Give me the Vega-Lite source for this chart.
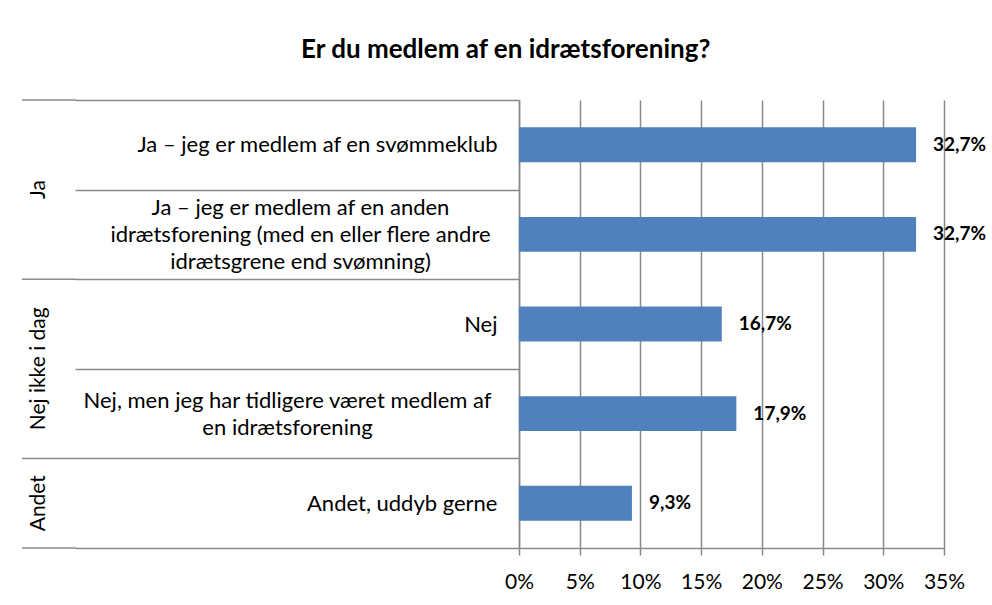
{
  "$schema": "https://vega.github.io/schema/vega-lite/v6.json",
  "padding": {"left": 21, "top": 37, "right": 0, "bottom": 0},
  "autosize": {"type": "pad"},
  "background": "white",
  "title": {"text": "Er du medlem af en idrætsforening?", "font": "Lato", "fontSize": 26, "fontWeight": "bold", "color": "#000000", "anchor": "middle", "dx": 2, "offset": 26},
  "data": {"values": [
    {"group": "Ja", "cat": "Ja – jeg er medlem af en svømmeklub", "value": 0.327},
    {"group": "Ja", "cat": "Ja – jeg er medlem af en anden|idrætsforening (med en eller flere andre|idrætsgrene end svømning)", "value": 0.327},
    {"group": "Nej ikke i dag", "cat": "Nej", "value": 0.167},
    {"group": "Nej ikke i dag", "cat": "Nej, men jeg har tidligere været medlem af|en idrætsforening", "value": 0.179},
    {"group": "Andet", "cat": "Andet, uddyb gerne", "value": 0.093}
  ]},
  "spacing": -3,
  "resolve": {"scale": {"y": "shared"}},
  "hconcat": [
    {
      "width": 54,
      "height": 448,
      "transform": [{"window": [{"op": "row_number", "as": "k"}], "groupby": ["group"]}],
      "layer": [
        {
          "transform": [{"filter": "datum.k == 1"}],
          "mark": {"type": "rule", "color": "#8A8A8A", "strokeWidth": 1.5},
          "encoding": {"y": {"field": "cat", "type": "nominal", "sort": null, "bandPosition": 0, "axis": null}}
        },
        {
          "transform": [{"filter": "datum.group == 'Andet'"}],
          "mark": {"type": "rule", "color": "#8A8A8A", "strokeWidth": 1.5},
          "encoding": {"y": {"field": "cat", "type": "nominal", "sort": null, "bandPosition": 1, "axis": null}}
        },
        {
          "transform": [{"filter": "datum.k == 1 && datum.group != 'Andet'"}],
          "mark": {"type": "text", "angle": 270, "font": "Lato", "fontSize": 21, "color": "#000000", "align": "center", "baseline": "middle", "dy": -10},
          "encoding": {"y": {"field": "cat", "type": "nominal", "sort": null, "bandPosition": 1, "axis": null}, "text": {"field": "group"}}
        },
        {
          "transform": [{"filter": "datum.group == 'Andet'"}],
          "mark": {"type": "text", "angle": 270, "font": "Lato", "fontSize": 21, "color": "#000000", "align": "center", "baseline": "middle", "dy": -10},
          "encoding": {"y": {"field": "cat", "type": "nominal", "sort": null, "bandPosition": 0.5, "axis": null}, "text": {"field": "group"}}
        }
      ]
    },
    {
      "width": 425,
      "height": 448,
      "encoding": {
        "y": {
          "field": "cat", "type": "nominal", "sort": null,
          "scale": {
            "domain": [
              "Ja – jeg er medlem af en svømmeklub",
              "Ja – jeg er medlem af en anden|idrætsforening (med en eller flere andre|idrætsgrene end svømning)",
              "Nej",
              "Nej, men jeg har tidligere været medlem af|en idrætsforening",
              "Andet, uddyb gerne"
            ],
            "paddingInner": 0, "paddingOuter": 0
          },
          "axis": {
            "title": null,
            "tickBand": "extent",
            "tickSize": 444,
            "tickColor": "#8A8A8A",
            "tickWidth": 1.5,
            "domainColor": "#8A8A8A",
            "domainWidth": 1.5,
            "labelFont": "Lato",
            "labelFontSize": 22,
            "labelColor": "#000000",
            "labelLimit": 600,
            "labelLineHeight": 27,
            "labelBaseline": "middle",
            "labelExpr": "split(datum.label, '|')",
            "labelAlign": {"condition": {"test": "isString(datum.value) && indexof(datum.value, '|') >= 0", "value": "center"}, "value": "right"},
            "labelOffset": {"condition": [
              {"test": "isString(datum.value) && indexof(datum.value, 'anden') >= 0", "value": -27},
              {"test": "isString(datum.value) && indexof(datum.value, 'tidligere') >= 0", "value": -13}
            ], "value": 0},
            "labelPadding": {"condition": [
              {"test": "isString(datum.value) && indexof(datum.value, 'anden') >= 0", "value": -225},
              {"test": "isString(datum.value) && indexof(datum.value, 'tidligere') >= 0", "value": -212}
            ], "value": -422}
          }
        }
      },
      "layer": [
        {
          "mark": {"type": "bar", "color": "#4F81BD", "height": {"band": 0.39}},
          "encoding": {
            "x": {
              "field": "value", "type": "quantitative",
              "scale": {"domain": [0, 0.35], "nice": false},
              "axis": {
                "title": null,
                "values": [0, 0.05, 0.1, 0.15, 0.2, 0.25, 0.3, 0.35],
                "format": ".0%",
                "grid": true,
                "gridColor": "#8A8A8A",
                "gridWidth": 1.5,
                "domainColor": "#8A8A8A",
                "domainWidth": 1.5,
                "tickColor": "#8A8A8A",
                "tickWidth": 1.5,
                "tickSize": 7,
                "labelFlush": false,
                "labelFont": "Lato",
                "labelFontSize": 21,
                "labelColor": "#000000",
                "labelPadding": 16
              }
            }
          }
        },
        {
          "mark": {"type": "text", "align": "left", "baseline": "middle", "dx": 17, "font": "Lato", "fontSize": 19, "fontWeight": "bold", "color": "#000000"},
          "encoding": {
            "x": {"field": "value", "type": "quantitative"},
            "text": {"field": "value", "type": "quantitative", "format": ".1%"}
          }
        }
      ]
    }
  ],
  "config": {
    "view": {"stroke": null},
    "locale": {"number": {"decimal": ",", "thousands": ".", "grouping": [3], "currency": ["", " kr."]}}
  }
}
